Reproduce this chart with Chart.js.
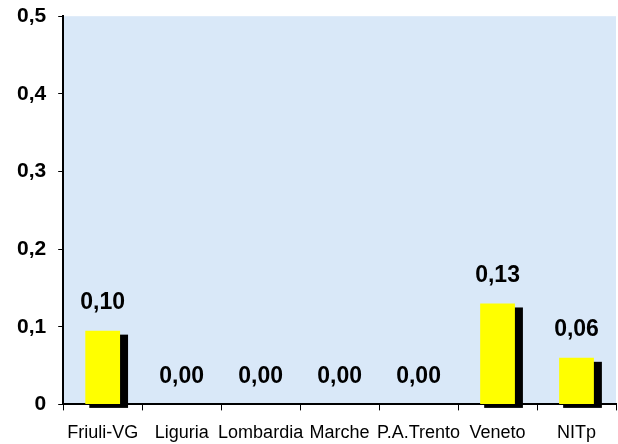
<!DOCTYPE html>
<html>
<head>
<meta charset="utf-8">
<script src="https://cdn.jsdelivr.net/npm/chart.js@4/dist/chart.umd.min.js"></script>
<style>
html,body{margin:0;padding:0;background:#fff;}
#wrap{width:618px;height:444px;position:relative;}
</style>
</head>
<body>
<div id="wrap"><canvas id="c"></canvas></div>
<script>
const categories = ['Friuli-VG','Liguria','Lombardia','Marche','P.A.Trento','Veneto','NITp'];
const values = [0.095, 0, 0, 0, 0, 0.13, 0.06];
const valueLabels = ['0,10','0,00','0,00','0,00','0,00','0,13','0,06'];
const yTicks = [0, 0.1, 0.2, 0.3, 0.4, 0.5];

const bgPlugin = {
  id: 'bg',
  beforeDraw(chart) {
    const {ctx, chartArea: a} = chart;
    ctx.save();
    ctx.fillStyle = '#d9e8f8';
    ctx.fillRect(a.left, a.top, a.right - a.left, a.bottom - a.top);
    ctx.restore();
  }
};

const shadowPlugin = {
  id: 'shadow',
  beforeDatasetDraw(chart, args) {
    const {ctx} = chart;
    const meta = chart.getDatasetMeta(args.index);
    ctx.save();
    ctx.fillStyle = '#000';
    meta.data.forEach((bar, i) => {
      if (!values[i]) return;
      const w = bar.width;
      const left = bar.x - w / 2 + 4;
      const top = bar.y + 4;
      const bottom = bar.base + 4;
      ctx.fillRect(left, top, w + 4, bottom - top);
    });
    ctx.restore();
  },
  afterDatasetsDraw(chart) {
    const {ctx} = chart;
    const meta = chart.getDatasetMeta(0);
    ctx.save();
    ctx.fillStyle = '#000';
    ctx.font = 'bold 23px "Liberation Sans", Arial, sans-serif';
    ctx.textAlign = 'center';
    ctx.textBaseline = 'middle';
    meta.data.forEach((bar, i) => {
      ctx.fillText(valueLabels[i], bar.x, bar.y - 28);
    });
    ctx.restore();
  }
};

new Chart(document.getElementById('c'), {
  type: 'bar',
  data: {
    labels: categories,
    datasets: [{
      data: values,
      backgroundColor: '#ffff00',
      borderWidth: 0,
      barPercentage: 0.44,
      categoryPercentage: 1.0
    }]
  },
  options: {
    responsive: true,
    maintainAspectRatio: false,
    animation: false,
    devicePixelRatio: 1,
    layout: { padding: { top: 0, right: 2, left: 5, bottom: -12 } },
    plugins: { legend: { display: false }, tooltip: { enabled: false } },
    scales: {
      x: {
        grid: { offset: true, drawOnChartArea: false, color: '#000', tickLength: 6, lineWidth: 1 },
        border: { color: '#000', width: 2 },
        ticks: { color: '#000', font: { family: '"Liberation Sans", Arial, sans-serif', size: 18 }, padding: 12, maxRotation: 0, autoSkip: false }
      },
      y: {
        min: 0, max: 0.5,
        afterBuildTicks(axis) { axis.ticks = yTicks.map(v => ({value: v})); },
        grid: { drawOnChartArea: false, color: '#000', tickLength: 5 },
        border: { color: '#000', width: 2 },
        ticks: {
          color: '#000',
          font: { family: '"Liberation Sans", Arial, sans-serif', size: 21, weight: 'bold', lineHeight: 0.4 },
          padding: 12,
          callback: v => v === 0 ? '0' : v.toFixed(1).replace('.', ',')
        }
      }
    }
  },
  plugins: [bgPlugin, shadowPlugin]
});
</script>
</body>
</html>
